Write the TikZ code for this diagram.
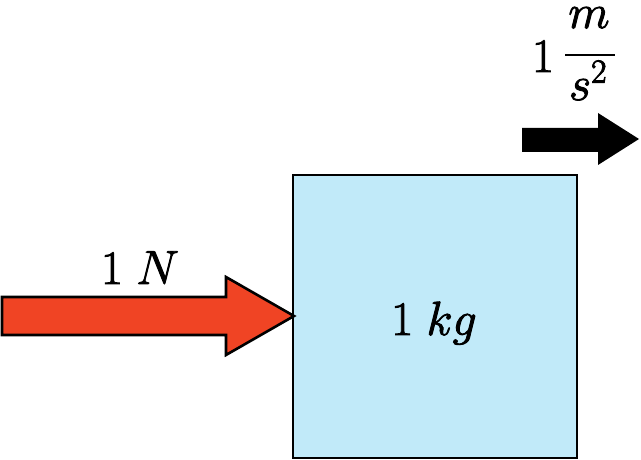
\documentclass[tikz,border=0pt]{standalone}
\usepackage{fix-cm}
\usepackage{amsmath}
\definecolor{boxblue}{RGB}{193,234,249}
\definecolor{forcered}{RGB}{240,68,36}
\newcommand{\heavytext}[1]{\special{pdf:literal direct 0.9 w 2 Tr}#1\special{pdf:literal direct 0 Tr}}
\tikzset{
  lbl/.style={inner sep=0pt, anchor=base, font=\fontsize{48}{58}\selectfont},
  massbox/.style={draw=black, line width=1.2pt, fill=boxblue},
}
\begin{document}
\begin{tikzpicture}[x=1pt,y=-1pt]
\useasboundingbox (0,0) rectangle (641,460);
% mass box
\draw[massbox] (293,175) rectangle (577,458);
\node[lbl] (mass) at (434,335) {\heavytext{$1\;kg$}};
% force arrow
\draw[line width=2.6pt, line join=miter, fill=forcered]
  (2,297) -- (226,297) -- (226,277) -- (294,316) -- (226,355) -- (226,335) -- (2,335) -- cycle;
\node[lbl] (force) at (140,284) {\heavytext{$1\;N$}};
% acceleration arrow
\fill[black] (522,128) -- (598,128) -- (598,113) -- (639,139) -- (598,165) -- (598,152) -- (522,152) -- cycle;
% acceleration label: 1 m/s^2 built as a fraction
\node[lbl] (accone) at (543,72) {\heavytext{$1$}};
\node[lbl] (accnum) at (589,28) {\heavytext{$m$}};
\node[lbl] (accden) at (588,100) {\heavytext{$s^2$}};
\draw[line width=2.2pt] (565,55) -- (615,55);
\end{tikzpicture}
\end{document}
